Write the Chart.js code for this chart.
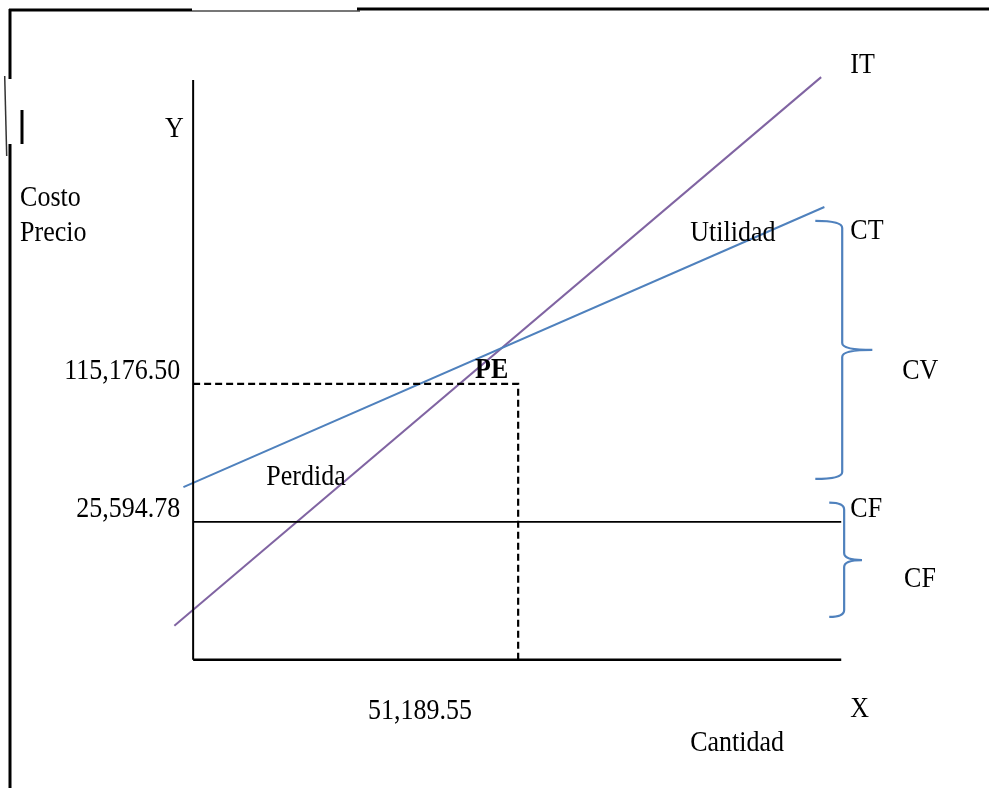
<!DOCTYPE html>
<html>
<head>
<meta charset="utf-8">
<script src="https://cdn.jsdelivr.net/npm/chart.js@4/dist/chart.umd.min.js"></script>
<style>
html,body{margin:0;padding:0;background:#fff;}
#wrap{width:989px;height:788px;}
</style>
</head>
<body>
<div id="wrap"><canvas id="c" width="989" height="788"></canvas></div>
<script>
// ---- Diagram values (abstract diagram units: axes run 0..100) ----
const xView = [-29.8, 122.8];
const yView = [-22.1, 113.8];
const axisMax = [100, 100];

// Ingreso total (IT)
const itX = [-2.9, 96.9];
const itY = [5.9, 100.5];
// Costo total (CT)
const ctX = [-1.5, 97.4];
const ctY = [29.8, 78.1];
// Costo fijo level
const cfX = [0, 100];
const cfY = [23.8, 23.8];
// Punto de equilibrio
const peX = 50.15;
const peY = 47.6;

// Tick labels (values shown on axes)
const yTickLabels = ['115,176.50', '25,594.78'];
const yTickPos = [49.8, 26.0];
const xTickLabels = ['51,189.55'];
const xTickPos = [27.0];

// Text annotations
const noteText  = ['IT', 'Y', 'Costo', 'Precio', 'Utilidad', 'CT', 'PE', 'CV', 'Perdida', 'CF', 'CF', 'X', 'Cantidad'];
const noteX     = [101.4, -2.9, -26.7, -26.7, 76.7, 101.4, 43.5, 109.4, 11.3, 101.4, 109.7, 101.4, 76.7];
const noteY     = [102.5, 91.4, 79.5, 73.6, 73.6, 73.9, 49.8, 49.8, 31.5, 26.0, 13.8, -8.6, -14.5];
const noteAlign = ['left','center','left','left','left','left','left','left','left','left','left','left','left'];
const noteBold  = [false,false,false,false,false,false,true,false,false,false,false,false,false];

// Braces: [xLeft, xSpine, xTip, yTop, yMid, yBottom]
const braceCV = [96.0, 100.15, 104.8, 75.7, 53.45, 31.2];
const braceCF = [98.15, 100.45, 103.2, 27.1, 17.2, 7.4];

const FONT = '"Liberation Serif", "Times New Roman", serif';
const FS = 26;
const TEXT_STRETCH = 1.1;

const toPts = (xs, ys) => xs.map((x, i) => ({x: x, y: ys[i]}));

const decor = {
  id: 'decor',
  beforeDatasetsDraw(chart) {
    const ctx = chart.ctx;
    // page frame (decorative, not data)
    ctx.save();
    ctx.lineCap = 'butt';
    const seg = (x1, y1, x2, y2, w, col) => {
      ctx.beginPath(); ctx.lineWidth = w; ctx.strokeStyle = col;
      ctx.moveTo(x1, y1); ctx.lineTo(x2, y2); ctx.stroke();
    };
    seg(9, 10, 192, 10, 3, '#000');
    seg(192, 11, 360, 11, 2, '#777');
    seg(357, 9, 989, 9, 3, '#000');
    seg(10, 9, 10, 79, 3, '#000');
    seg(10, 144, 10, 788, 3, '#000');
    seg(4.7, 76, 6.7, 156, 1.5, '#333');
    seg(22, 110, 22, 144, 3, '#000');
    ctx.restore();
  },
  afterDatasetsDraw(chart) {
    const ctx = chart.ctx;
    const xs = chart.scales.x, ys = chart.scales.y;
    const px = v => xs.getPixelForValue(v);
    const py = v => ys.getPixelForValue(v);
    ctx.save();
    // braces
    const brace = (b) => {
      const xL = px(b[0]), xS = px(b[1]), xT = px(b[2]);
      const yT = py(b[3]), yM = py(b[4]), yB = py(b[5]);
      const r = 7;
      ctx.beginPath();
      ctx.moveTo(xL, yT);
      ctx.quadraticCurveTo(xS, yT, xS, yT + r);
      ctx.lineTo(xS, yM - r);
      ctx.quadraticCurveTo(xS, yM, xT, yM);
      ctx.moveTo(xT, yM);
      ctx.quadraticCurveTo(xS, yM, xS, yM + r);
      ctx.lineTo(xS, yB - r);
      ctx.quadraticCurveTo(xS, yB, xL, yB);
      ctx.strokeStyle = '#4F81BD';
      ctx.lineWidth = 2.2;
      ctx.stroke();
    };
    brace(braceCV);
    brace(braceCF);
    // text
    const put = (t, x, y, align, bold) => {
      ctx.save();
      ctx.translate(x, y);
      ctx.scale(1, TEXT_STRETCH);
      ctx.font = (bold ? 'bold ' : '') + FS + 'px ' + FONT;
      ctx.textAlign = align;
      ctx.textBaseline = 'middle';
      ctx.fillStyle = '#000';
      ctx.fillText(t, 0, 0);
      ctx.restore();
    };
    noteText.forEach((t, i) => put(t, px(noteX[i]), py(noteY[i]), noteAlign[i], noteBold[i]));
    yTickLabels.forEach((t, i) => put(t, px(-2.0), py(yTickPos[i]), 'right', false));
    xTickLabels.forEach((t, i) => put(t, px(xTickPos[i]), py(-8.9), 'left', false));
    ctx.restore();
  }
};

const line = (data, color, width, dash) => ({
  data: data, showLine: true, borderColor: color, borderWidth: width,
  borderDash: dash || [], pointRadius: 0, fill: false, tension: 0
});

new Chart(document.getElementById('c'), {
  type: 'scatter',
  data: {
    datasets: [
      line(toPts([0, 0], [0, axisMax[1]]), '#000', 2),
      line(toPts([0, axisMax[0]], [0, 0]), '#000', 2.5),
      line(toPts(cfX, cfY), '#000', 1.8),
      line([{x: 0, y: peY}, {x: peX, y: peY}, {x: peX, y: 0}], '#000', 2.2, [7, 4]),
      line(toPts(ctX, ctY), '#4F81BD', 2),
      line(toPts(itX, itY), '#8064A2', 2)
    ]
  },
  options: {
    responsive: false,
    animation: false,
    layout: {padding: 0},
    plugins: {legend: {display: false}, tooltip: {enabled: false}},
    scales: {
      x: {type: 'linear', min: xView[0], max: xView[1], display: false},
      y: {type: 'linear', min: yView[0], max: yView[1], display: false}
    }
  },
  plugins: [decor]
});
</script>
</body>
</html>
